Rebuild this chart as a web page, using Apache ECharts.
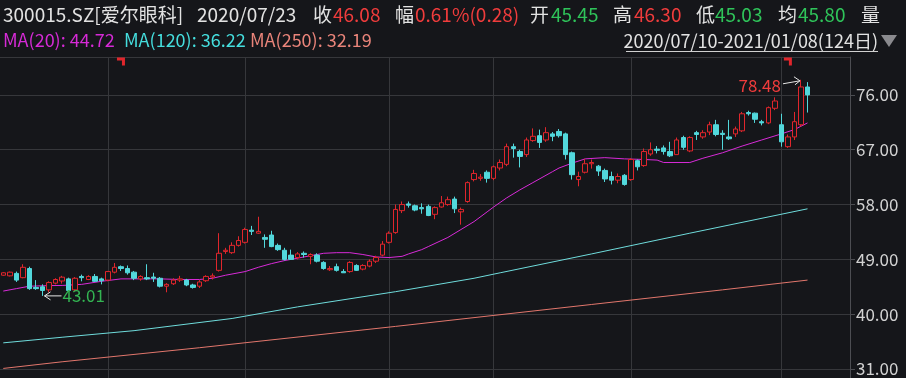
<!DOCTYPE html>
<html><head><meta charset="utf-8">
<script src="https://cdn.jsdelivr.net/npm/echarts@6/dist/echarts.min.js"></script>
<style>html,body{margin:0;padding:0;background:#15161a;overflow:hidden}#c{width:906px;height:378px}</style>
</head><body><div id="c"></div><script>
// ---- data ----
const dates = [
'2020/07/10','2020/07/13','2020/07/14','2020/07/15','2020/07/16','2020/07/17','2020/07/20','2020/07/21','2020/07/22','2020/07/23','2020/07/24','2020/07/27','2020/07/28','2020/07/29','2020/07/30','2020/07/31',
'2020/08/03','2020/08/04','2020/08/05','2020/08/06','2020/08/07','2020/08/10','2020/08/11','2020/08/12','2020/08/13','2020/08/14','2020/08/17','2020/08/18','2020/08/19','2020/08/20','2020/08/21','2020/08/24','2020/08/25','2020/08/26','2020/08/27','2020/08/28','2020/08/31',
'2020/09/01','2020/09/02','2020/09/03','2020/09/04','2020/09/07','2020/09/08','2020/09/09','2020/09/10','2020/09/11','2020/09/14','2020/09/15','2020/09/16','2020/09/17','2020/09/18','2020/09/21','2020/09/22','2020/09/23','2020/09/24','2020/09/25','2020/09/28','2020/09/29','2020/09/30',
'2020/10/09','2020/10/12','2020/10/13','2020/10/14','2020/10/15','2020/10/16','2020/10/19','2020/10/20','2020/10/21','2020/10/22','2020/10/23','2020/10/26','2020/10/27','2020/10/28','2020/10/29','2020/10/30',
'2020/11/02','2020/11/03','2020/11/04','2020/11/05','2020/11/06','2020/11/09','2020/11/10','2020/11/11','2020/11/12','2020/11/13','2020/11/16','2020/11/17','2020/11/18','2020/11/19','2020/11/20','2020/11/23','2020/11/24','2020/11/25','2020/11/26','2020/11/27','2020/11/30',
'2020/12/01','2020/12/02','2020/12/03','2020/12/04','2020/12/07','2020/12/08','2020/12/09','2020/12/10','2020/12/11','2020/12/14','2020/12/15','2020/12/16','2020/12/17','2020/12/18','2020/12/21','2020/12/22','2020/12/23','2020/12/24','2020/12/25','2020/12/28','2020/12/29','2020/12/30','2020/12/31',
'2021/01/04','2021/01/05','2021/01/06','2021/01/07','2021/01/08'];

const open = [46.4,46.3,46.7,46.0,47.5,44.4,44.5,44.0,45.1,45.45,45.8,44.0,46.2,45.7,46.2,45.8,
45.6,46.9,47.8,47.5,46.9,45.8,46.0,46.1,45.9,44.6,45.0,45.6,45.6,44.8,44.6,45.5,46.1,47.2,50.3,50.1,51.3,
51.8,53.8,53.3,52.6,53.0,51.3,50.5,49.7,49.3,50.0,49.5,49.7,48.5,47.3,47.8,47.0,47.0,48.0,47.4,47.9,48.7,49.7,
51.8,53.4,57.0,58.1,57.8,57.5,57.7,56.4,57.6,58.0,58.9,56.8,58.5,62.1,62.3,63.3,
62.3,64.0,64.6,67.5,66.7,66.2,68.5,69.3,68.6,69.6,70.0,69.6,66.5,62.1,63.3,64.7,64.3,63.6,62.6,62.0,62.8,
62.1,65.2,64.4,66.3,67.1,67.3,66.7,66.2,69.0,66.8,69.8,69.1,69.9,71.1,69.7,69.1,69.6,70.1,73.1,73.0,71.6,71.4,73.8,
71.1,67.5,69.1,71.1,77.3];
const close = [46.8,46.9,45.6,47.7,44.2,44.2,43.9,45.2,45.7,46.08,43.9,45.9,46.0,46.2,45.4,45.5,
47.0,47.7,47.5,46.8,45.9,46.2,45.8,45.9,44.6,44.9,45.6,45.8,44.8,44.4,45.3,46.2,46.3,50.0,50.5,51.3,52.1,
53.9,53.6,53.6,52.3,51.1,50.6,49.0,49.0,49.9,49.8,49.8,48.7,47.5,47.5,47.2,46.8,48.5,47.2,48.0,48.7,49.3,51.5,
53.3,57.2,58.0,57.9,57.1,57.3,56.2,57.5,58.3,58.8,57.3,57.2,61.6,63.1,62.5,62.3,
64.2,64.9,67.5,67.2,65.9,68.6,69.2,68.2,69.8,69.2,69.3,66.2,62.9,62.6,64.7,64.9,63.5,62.2,62.0,62.6,61.3,
65.4,64.2,66.7,67.0,66.9,66.7,66.0,68.6,67.4,69.0,69.5,69.8,71.1,69.5,69.5,68.8,70.4,72.9,72.9,72.0,71.4,73.9,75.0,
68.3,69.1,71.6,77.3,76.0];
const low = [46.3,46.2,45.3,45.9,44.0,44.0,43.01,43.6,44.9,45.03,43.7,43.8,45.4,45.6,45.3,44.9,
45.4,46.7,47.1,46.5,45.6,45.5,45.6,45.3,44.4,43.6,44.8,45.3,44.6,44.2,44.3,45.3,45.7,47.0,49.9,49.9,51.1,
51.6,53.0,53.2,50.9,51.0,50.4,48.8,48.9,49.0,49.3,48.2,48.5,47.3,47.1,47.0,46.8,46.8,47.1,47.2,47.7,48.4,49.5,
51.6,53.2,56.6,57.5,56.9,56.5,56.1,55.6,57.5,57.8,56.6,54.7,58.3,61.8,61.9,61.6,
62.0,63.6,64.3,65.7,64.1,65.8,68.3,67.3,68.3,68.4,69.0,65.4,62.1,61.0,63.1,63.9,62.7,61.7,61.3,61.5,61.1,
61.9,63.6,64.2,66.0,66.4,66.2,65.8,66.2,67.0,66.6,68.6,68.8,69.4,69.2,67.0,68.6,69.1,69.9,72.6,71.4,71.0,71.2,73.5,
67.5,67.3,68.6,70.8,73.1];
const high = [46.9,47.0,47.0,48.2,47.8,45.6,44.9,45.4,45.9,46.30,46.0,46.1,46.5,46.4,46.6,46.0,
47.1,48.4,48.0,48.0,47.1,46.4,48.2,46.8,46.1,45.1,45.9,46.3,45.8,45.0,45.6,46.4,46.7,53.3,50.9,51.8,52.8,
54.2,54.5,56.0,53.1,53.7,51.6,50.9,50.6,50.2,50.3,50.0,50.0,48.7,47.9,48.3,47.4,48.7,48.2,48.2,49.0,49.6,52.0,
53.6,58.0,58.5,58.5,58.0,58.2,58.0,57.7,59.4,59.3,59.3,57.5,61.8,63.7,63.0,63.6,
64.4,65.4,68.0,68.0,67.0,69.0,70.5,70.3,70.7,69.9,70.4,69.8,66.7,63.4,65.5,65.4,64.5,63.9,63.4,63.1,63.0,
65.6,65.4,67.2,68.2,67.6,67.7,68.3,69.0,69.3,69.2,70.1,70.2,71.6,71.9,70.2,71.9,70.8,73.2,73.4,73.1,71.9,74.1,75.6,
72.9,69.5,73.2,78.48,78.1];

// moving averages: [day index, value]
const ma20 = [[0,43.8],[2,44.2],[4,44.6],[7,44.7],[9,44.72],[12,44.9],[15,45.4],[18,45.8],[21,45.8],[24,45.8],[27,45.7],[30,45.7],[32,45.9],[34,46.4],[37,47.0],[39,47.7],[41,48.3],[43,48.8],[45,49.2],[47,49.6],[49,50.0],[51,50.1],[53,50.1],[55,49.8],[57,49.4],[59,49.3],[61,49.5],[62,49.9],[64,50.6],[65,51.1],[68,52.6],[70,53.9],[72,55.2],[74,56.8],[75,57.6],[77,59.1],[79,60.4],[81,61.6],[84,63.4],[85,64.0],[87,64.8],[89,65.5],[92,65.7],[95,65.5],[98,65.4],[100,65.3],[101,64.9],[105,64.9],[107,65.6],[110,66.5],[113,67.6],[116,68.6],[119,69.6],[121,70.3],[123,71.4]];
const ma120 = [[0,35.3],[9,36.22],[20,37.3],[35,39.3],[45,41.2],[60,43.7],[72,45.9],[76,46.8],[90,49.9],[105,53.3],[123,57.3]];
const ma250 = [[0,31.1],[9,32.19],[30,34.5],[60,38.0],[90,41.6],[110,44.0],[123,45.6]];

const yTicks = [31, 40, 49, 58, 67, 76];
const yMin = 29.53, yMax = 82.22;
const noteIdx = [18, 120];
const padDays = 6;

// ---- colours ----
const BG = '#15161a', RED = '#e0262c', CYAN = '#52d8dc', GRIDC = '#36373b';
const WHITE = '#e2e2e2', TRED = '#f03c3c', TGREEN = '#2fc45a';
const FONT = "'Noto Sans CJK SC','Noto Sans',sans-serif";

const cats = dates.concat(Array.from({length: padDays}, (_, i) => 'pad' + i));
const kData = dates.map((d, i) => [open[i], close[i], low[i], high[i]]);
const monthStarts = dates.map((d, i) => i).filter(i => i > 0 && dates[i].slice(0, 7) !== dates[i - 1].slice(0, 7));

const chart = echarts.init(document.getElementById('c'), null, {renderer: 'canvas'});
chart.setOption({
  backgroundColor: BG,
  animation: false,
  grid: {left: 0, right: 56, top: 57, bottom: -1, show: false},
  xAxis: {
    type: 'category', data: cats, boundaryGap: true,
    axisLine: {show: false}, axisTick: {show: false}, axisLabel: {show: false}, splitLine: {show: false}
  },
  yAxis: {
    type: 'value', position: 'right', min: yMin, max: yMax, scale: true,
    axisLine: {show: true, lineStyle: {color: '#4c4d52'}},
    axisTick: {show: true, length: 5, customValues: yTicks, lineStyle: {color: '#4c4d52'}},
    axisLabel: {show: true, customValues: yTicks, color: '#d2d2d2', fontSize: 17, fontFamily: FONT, margin: 6,
      formatter: v => v.toFixed(2)},
    splitLine: {show: false}
  },
  series: [
    {
      type: 'line', data: ma250, showSymbol: false, symbol: 'none', z: 2,
      lineStyle: {color: '#e2766c', width: 1}, silent: true,
      markLine: {
        silent: true, symbol: 'none', z: 1, animation: false,
        label: {show: false},
        lineStyle: {color: GRIDC, width: 1, type: 'solid'},
        emphasis: {disabled: true},
        data: monthStarts.map(i => ({xAxis: i}))
          .concat(yTicks.map(v => ({yAxis: v})))
          .concat([{yAxis: yMax}])
      }
    },
    {type: 'line', data: ma120, showSymbol: false, symbol: 'none', z: 2, silent: true,
      lineStyle: {color: '#6fdcdc', width: 1}},
    {type: 'line', data: ma20, showSymbol: false, symbol: 'none', z: 2, silent: true,
      lineStyle: {color: '#d82ad8', width: 1}},
    {
      type: 'candlestick', data: kData, barWidth: 5, z: 3, silent: true,
      itemStyle: {color: BG, color0: CYAN, borderColor: RED, borderColor0: CYAN, borderWidth: 1},
      markPoint: {
        silent: true,
        symbol: 'path://M0,0H8V8H5V3H0Z', symbolSize: [8, 8],
        itemStyle: {color: RED}, label: {show: false},
        data: noteIdx.map(i => ({coord: [i, yMax - 0.75]}))
      }
    }
  ]
});

// ---- annotations (min / max) placed through the axes ----
let minIdx = 0, maxIdx = 0;
low.forEach((v, i) => { if (v < low[minIdx]) minIdx = i; });
high.forEach((v, i) => { if (v > high[maxIdx]) maxIdx = i; });
const pMin = chart.convertToPixel({gridIndex: 0}, [minIdx, low[minIdx]]);
const pMax = chart.convertToPixel({gridIndex: 0}, [maxIdx, high[maxIdx]]);

const g = [];
// min arrow (pointing left to candle)
g.push({type: 'line', shape: {x1: pMin[0] + 2, y1: pMin[1], x2: pMin[0] + 19, y2: pMin[1]}, style: {stroke: '#e6e6e6', lineWidth: 1}, z: 10});
g.push({type: 'polyline', shape: {points: [[pMin[0] + 8, pMin[1] - 4], [pMin[0] + 2, pMin[1]], [pMin[0] + 8, pMin[1] + 4]]}, style: {stroke: '#e6e6e6', lineWidth: 1, fill: null}, z: 10});
g.push({type: 'text', x: pMin[0] + 20, y: pMin[1], style: {text: low[minIdx].toFixed(2), fill: '#33b452', font: '17px ' + FONT, textAlign: 'left', textVerticalAlign: 'middle'}, z: 10});
// max arrow (pointing right to candle)
g.push({type: 'line', shape: {x1: pMax[0] - 18, y1: pMax[1] + 4, x2: pMax[0] - 1, y2: pMax[1] + 1}, style: {stroke: '#e6e6e6', lineWidth: 1}, z: 10});
g.push({type: 'polyline', shape: {points: [[pMax[0] - 7, pMax[1] - 3], [pMax[0] - 1, pMax[1] + 1], [pMax[0] - 6, pMax[1] + 5]]}, style: {stroke: '#e6e6e6', lineWidth: 1, fill: null}, z: 10});
g.push({type: 'text', x: pMax[0] - 20, y: pMax[1] + 6, style: {text: high[maxIdx].toFixed(2), fill: TRED, font: '17px ' + FONT, textAlign: 'right', textVerticalAlign: 'middle'}, z: 10});

// ---- header texts ----
const row1 = [
  ['300015.SZ[爱尔眼科]', 3, WHITE], ['2020/07/23', 197, WHITE],
  ['收', 313, WHITE], ['46.08', 333, TRED],
  ['幅', 395, WHITE], ['0.61%(0.28)', 415, TRED],
  ['开', 530, WHITE], ['45.45', 551, TGREEN],
  ['高', 613, WHITE], ['46.30', 634, TRED],
  ['低', 696, WHITE], ['45.03', 715, TGREEN],
  ['均', 778, WHITE], ['45.80', 798, TGREEN],
  ['量', 861, WHITE]
];
row1.forEach(r => g.push({type: 'text', x: r[1], y: 15, style: {text: r[0], fill: r[2], font: '19px ' + FONT, textVerticalAlign: 'middle'}}));
const row2 = [
  ['MA(20): 44.72', 3, '#d62ad6'], ['MA(120): 36.22', 124, '#45dede'], ['MA(250): 32.19', 250, '#e9847a']
];
row2.forEach(r => g.push({type: 'text', x: r[1], y: 40, style: {text: r[0], fill: r[2], font: '18px ' + FONT, textVerticalAlign: 'middle'}}));
g.push({type: 'text', x: 878, y: 41, style: {text: '2020/07/10-2021/01/08(124日)', fill: WHITE, font: '18px ' + FONT, textAlign: 'right', textVerticalAlign: 'middle'}});
g.push({type: 'line', shape: {x1: 626, y1: 51.5, x2: 878, y2: 51.5}, style: {stroke: '#d0d0d0', lineWidth: 1}});
g.push({type: 'polygon', shape: {points: [[881, 35], [897, 35], [889, 47]]}, style: {fill: '#8a8a8e'}});

chart.setOption({graphic: g});
</script></body></html>
